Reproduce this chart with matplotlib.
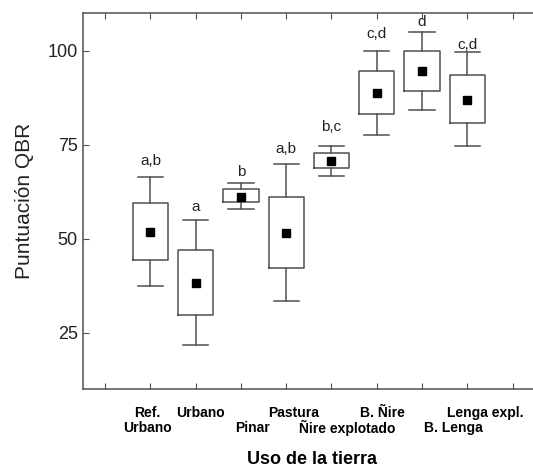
import matplotlib

matplotlib.use("Agg")
import matplotlib.pyplot as plt
import matplotlib.transforms as mtransforms

plt.rcParams["font.family"] = ["Liberation Sans", "DejaVu Sans"]

# datos (media, caja, bigotes)
categorias = ["Ref.\nUrbano", "Urbano", "Pinar", "Pastura",
              "Ñire explotado", "B. Ñire", "B. Lenga", "Lenga expl."]
medias = [51.7, 38.3, 61.2, 51.5, 70.6, 88.7, 94.7, 87.0]
caja_inf = [44.4, 29.8, 59.7, 42.3, 68.7, 83.2, 89.4, 80.8]
caja_sup = [59.4, 46.9, 63.1, 61.0, 72.8, 94.6, 100.0, 93.6]
bigote_inf = [37.3, 21.6, 58.0, 33.3, 66.7, 77.7, 84.3, 74.7]
bigote_sup = [66.5, 55.1, 64.7, 70.0, 74.7, 100.0, 105.1, 99.8]
letras = ["a,b", "a", "b", "a,b", "b,c", "c,d", "d", "c,d"]
letras_y = [69.6, 57.5, 66.7, 72.8, 78.8, 103.4, 106.5, 100.4]
# posición de las etiquetas del eje x (fila 0 arriba, fila 1 abajo)
etiqueta_x = [0.93, 2.11, 3.25, 4.17, 5.35, 6.13, 7.70, 8.39]
etiqueta_fila = [0, 0, 1, 0, 1, 0, 1, 0]

posiciones = list(range(1, len(categorias) + 1))
gris = "#505050"

fig = plt.figure(figsize=(5.33, 4.68), dpi=100)
ax = fig.add_axes([0.155, 0.169, 0.849, 0.8025])

stats = []
for i in range(len(categorias)):
    stats.append({
        "med": medias[i], "mean": medias[i],
        "q1": caja_inf[i], "q3": caja_sup[i],
        "whislo": bigote_inf[i], "whishi": bigote_sup[i],
    })

ax.bxp(stats, positions=posiciones, widths=0.78, showmeans=True,
       showfliers=False, showcaps=True,
       boxprops=dict(color=gris, linewidth=1.1),
       whiskerprops=dict(color=gris, linewidth=1.1),
       capprops=dict(color=gris, linewidth=1.1),
       medianprops=dict(linewidth=0),
       meanprops=dict(marker="s", markerfacecolor="black",
                      markeredgecolor="black", markersize=6.3))
# capuchones más anchos (~0.56)
for line in ax.lines:
    xs = line.get_xdata()
    if len(xs) == 2 and xs[0] != xs[1]:
        c = (xs[0] + xs[1]) / 2
        line.set_xdata([c - 0.28, c + 0.28])

for x, y, t in zip(posiciones, letras_y, letras):
    ax.text(x, y, t, ha="center", va="baseline", fontsize=11, color="#222222")

ax.set_xlim(-0.5, 9.5)
ax.set_ylim(10, 110)
ax.set_yticks([25, 50, 75, 100])
ax.set_xticks(range(0, 10))
ax.set_xticklabels([])
ax.tick_params(axis="y", labelsize=13, direction="in", length=4, color=gris,
               left=True, right=False, labelcolor="#222222")
ax.tick_params(axis="x", direction="in", length=4, color=gris, top=True,
               bottom=True)
for s in ["left", "bottom", "top"]:
    ax.spines[s].set_color(gris)
    ax.spines[s].set_linewidth(1.1)
ax.spines["right"].set_visible(False)

trans = mtransforms.blended_transform_factory(ax.transData, ax.transAxes)
filas_y = [-0.063, -0.105]
for x, nombre, fila in zip(etiqueta_x, categorias, etiqueta_fila):
    if "\n" in nombre:
        a, b = nombre.split("\n")
        ax.text(x, filas_y[0], a, transform=trans, ha="center", va="center",
                fontsize=10, fontweight="bold")
        ax.text(x, filas_y[1], b, transform=trans, ha="center", va="center",
                fontsize=10, fontweight="bold")
    else:
        ax.text(x, filas_y[fila], nombre, transform=trans, ha="center",
                va="center", fontsize=10, fontweight="bold")

ax.text(4.56, -0.189, "Uso de la tierra", transform=trans,
        ha="center", va="center", fontsize=13, fontweight="bold")
ax.set_ylabel("Puntuación QBR", fontsize=15, labelpad=10, color="#222222")

fig.savefig("out.png", dpi=100)
